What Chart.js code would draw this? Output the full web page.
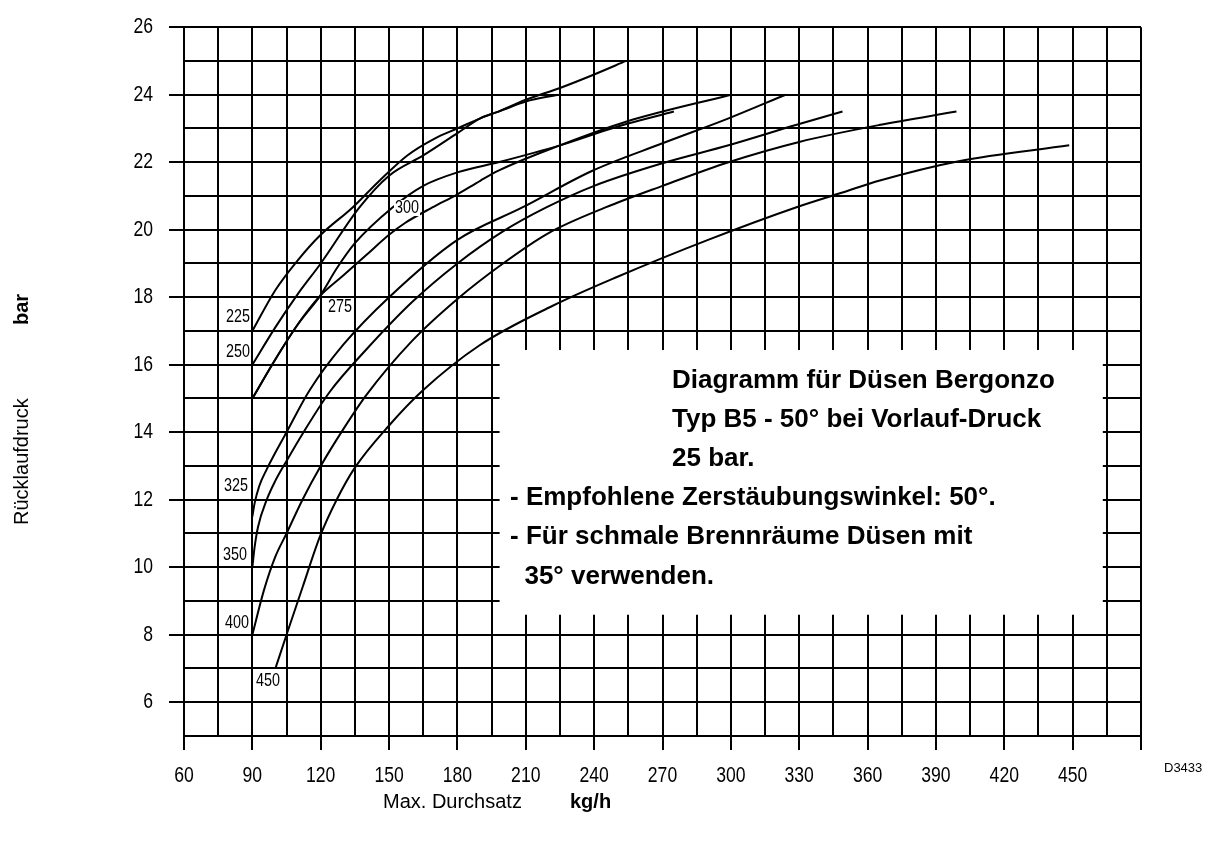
<!DOCTYPE html>
<html>
<head>
<meta charset="utf-8">
<script src="https://cdn.jsdelivr.net/npm/chart.js@4.4.1/dist/chart.umd.min.js"></script>
<style>
html,body{margin:0;padding:0;background:#fff;}
#wrap{position:relative;width:1207px;height:847px;}
canvas{display:block;}
</style>
</head>
<body>
<div id="wrap"><canvas id="c" width="1207" height="847"></canvas></div>
<script>
// ---- data ----
const xTickLabels = [60,90,120,150,180,210,240,270,300,330,360,390,420,450];
const yTickLabels = [6,8,10,12,14,16,18,20,22,24,26];

const n225x = [90,100,110,120,134,145,158,170,180,190,200,210,224];
const n225y = [17,18.2,19.1,19.85,20.66,21.4,22.2,22.7,23.0,23.3,23.55,23.8,24];
const n250x = [90,100,110,120,137,150,165,180,190,198,210,225,240,254];
const n250y = [16,17.1,18.1,19.0,20.66,21.6,22.2,22.86,23.3,23.5,23.85,24.2,24.6,25];
const n275x = [90,100,110,119.6,127,135,151.5,165,180,198,225,250,275];
const n275y = [15,16.15,17.2,18.03,18.85,19.6,20.66,21.3,21.7,22.0,22.5,23.05,23.5];
const n300x = [90,100,110,119.6,130,140,150,157,169,180,190,198,225,254,300];
const n300y = [15,16.15,17.2,18.03,18.65,19.25,19.85,20.2,20.66,21.05,21.45,21.75,22.5,23.2,24];
const n325x = [90,91,93,96.3,105,115.2,130,150,180,208.5,239,270,299,324];
const n325y = [11.5,11.9,12.4,12.9,14.0,15.25,16.6,18.0,19.7,20.66,21.74,22.56,23.3,24];
const n350x = [90,91,92.5,96.3,100,105,112,124,140,160,180,200,219,240,270,299,328.5,349];
const n350y = [10,10.6,11.2,12.0,12.55,13.15,13.95,15.2,16.45,17.85,19.0,19.95,20.66,21.3,21.97,22.5,23.1,23.5];
const n400x = [90,95,100,105,112,120,130,140,160,180,200,220,245,270,299,330,365,399];
const n400y = [8,9.3,10.3,11.0,12.0,13.0,14.1,15.1,16.7,17.95,19.0,19.9,20.66,21.3,22.0,22.6,23.1,23.5];
const n450x = [100.3,105,112,119.6,127,135,150,165,189.6,221.6,250,290,328.5,351.7,365,400,448.5];
const n450y = [7.04,8.0,9.4,10.9,12.0,12.95,14.2,15.25,16.57,17.74,18.6,19.7,20.66,21.16,21.45,22.03,22.5];

const curveNames = ['225','250','275','300','325','350','400','450'];
const curveX = [n225x,n250x,n275x,n300x,n325x,n350x,n400x,n450x];
const curveY = [n225y,n250y,n275y,n300y,n325y,n350y,n400y,n450y];

const numFont = '"Liberation Sans",Arial,sans-serif';
const txtFont = '"Liberation Sans",Arial,sans-serif';

const datasets = curveNames.map((n,i)=>({
  label: n,
  data: curveX[i].map((x,j)=>({x:x,y:curveY[i][j]})),
  borderColor:'#000', borderWidth:2, pointRadius:0, fill:false,
  cubicInterpolationMode:'monotone'
}));

const boxLines = [
  {t:'Diagramm für Düsen Bergonzo', x:672, y:381},
  {t:'Typ B5 - 50° bei Vorlauf-Druck', x:672, y:420},
  {t:'25 bar.', x:672, y:459},
  {t:'- Empfohlene Zerstäubungswinkel: 50°.', x:510, y:498},
  {t:'- Für schmale Brennräume Düsen mit', x:510, y:537},
  {t:'  35° verwenden.', x:510, y:577}
];

function narrowText(ctx,txt,x,y,size,sx,align){
  ctx.save();
  ctx.font=size+'px '+numFont;
  ctx.translate(x,y);
  ctx.scale(sx,1);
  ctx.textAlign=align; ctx.textBaseline='middle';
  ctx.fillText(txt,0,0);
  ctx.restore();
}

const decor = {
  id:'decor',
  beforeDatasetsDraw(chart){
    const ctx=chart.ctx, xs=chart.scales.x, ys=chart.scales.y;
    const l=xs.getPixelForValue(195)+8, r=xs.getPixelForValue(465)-4;
    const t=ys.getPixelForValue(17)+19, b=ys.getPixelForValue(8)-20;
    ctx.save();
    ctx.fillStyle='#fff';
    ctx.fillRect(l,t,r-l,b-t);
    ctx.restore();
  },
  afterDraw(chart){
    const ctx=chart.ctx, xs=chart.scales.x, ys=chart.scales.y;
    ctx.save();
    ctx.fillStyle='#000';
    xTickLabels.forEach(v=>narrowText(ctx,String(v),xs.getPixelForValue(v),776,22,0.8,'center'));
    yTickLabels.forEach(v=>narrowText(ctx,String(v),153,ys.getPixelForValue(v),22,0.8,'right'));
    ctx.font='bold 26px '+txtFont;
    ctx.textBaseline='middle';
    ctx.textAlign='left';
    boxLines.forEach(o=>ctx.fillText(o.t,o.x,o.y));
    const lab=[['225',238,317],['250',238,352],['275',340,307],['300',407,208],['325',236,486],['350',235,555],['400',237,623],['450',268,681]];
    lab.forEach(a=>{
      if(a[0]==='300'){
        ctx.fillStyle='#fff'; ctx.fillRect(a[1]-13,a[2]-8,26,16); ctx.fillStyle='#000';
      }
      narrowText(ctx,a[0],a[1],a[2],17.5,0.82,'center');
    });
    ctx.textBaseline='middle';
    ctx.font='20px '+txtFont;
    ctx.textAlign='left';
    ctx.fillText('Max. Durchsatz',383,802);
    ctx.font='bold 20px '+txtFont;
    ctx.fillText('kg/h',570,802);
    ctx.save();
    ctx.translate(22,525);
    ctx.rotate(-Math.PI/2);
    ctx.font='20px '+txtFont;
    ctx.fillText('Rücklaufdruck',0,0);
    ctx.font='bold 20px '+txtFont;
    ctx.fillText('bar',200,0);
    ctx.restore();
    ctx.font='13px '+txtFont;
    ctx.fillText('D3433',1164,768);
    ctx.restore();
  }
};

new Chart(document.getElementById('c'),{
  type:'line',
  data:{datasets},
  options:{
    responsive:false, animation:false,
    layout:{padding:{left:0,right:66,top:17,bottom:0}},
    plugins:{legend:{display:false},tooltip:{enabled:false}},
    scales:{
      x:{type:'linear',min:60,max:480,
        afterFit(s){s.height=111;},
        grid:{color:'#000',lineWidth:2,drawTicks:true,tickLength:14,
          tickColor:c=>((c.tick&&(c.tick.value-60)%30===0)?'#000':'rgba(0,0,0,0)')},
        border:{color:'#000',width:2},
        ticks:{stepSize:15,autoSkip:false,maxRotation:0,color:'rgba(0,0,0,0)',padding:12,
          font:{family:numFont,size:22},
          callback:v=>xTickLabels.includes(v)?String(v):''}},
      y:{type:'linear',min:5,max:26,
        afterFit(s){s.width=184;},
        grid:{color:'#000',lineWidth:2,tickLength:15,
          tickColor:c=>((c.tick&&yTickLabels.includes(c.tick.value))?'#000':'rgba(0,0,0,0)')},
        border:{color:'#000',width:2},
        ticks:{stepSize:1,autoSkip:false,color:'rgba(0,0,0,0)',padding:14,
          font:{family:numFont,size:22},
          callback:v=>yTickLabels.includes(v)?String(v):''}}
    }
  },
  plugins:[decor]
});
</script>
</body>
</html>
